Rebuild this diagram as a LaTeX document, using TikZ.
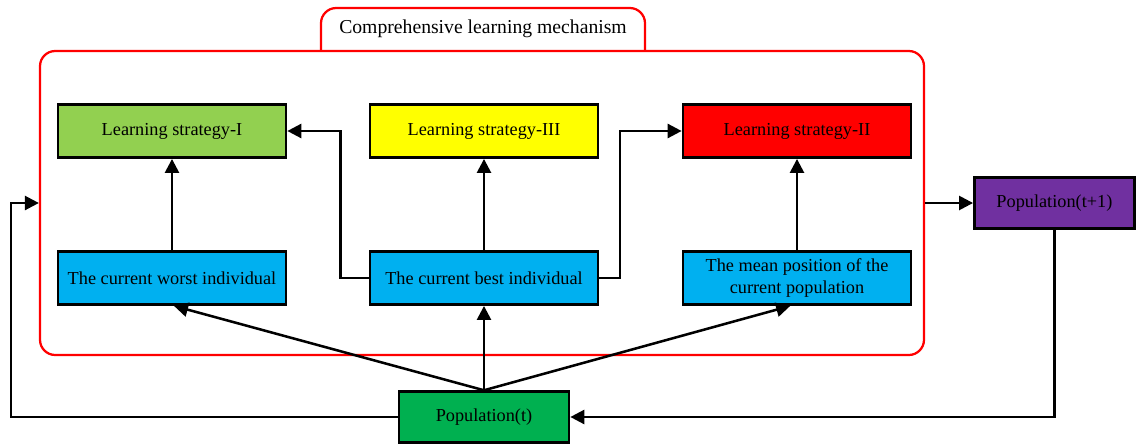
\documentclass[tikz,border=0pt]{standalone}
\usepackage{fontspec}
\setmainfont{Liberation Serif}
\usetikzlibrary{arrows.meta}

\definecolor{lsgreen}{HTML}{92D050}
\definecolor{lsyellow}{HTML}{FFFF00}
\definecolor{lsred}{HTML}{FF0000}
\definecolor{indblue}{HTML}{00B0F0}
\definecolor{poppurple}{HTML}{7030A0}
\definecolor{popgreen}{HTML}{00B050}

\begin{document}
\begin{tikzpicture}[
    box/.style={rectangle, draw, line width=1.9pt, minimum width=5.7cm, minimum height=1.33cm, align=center, font=\fontsize{13}{15.5}\selectfont},
    popbox/.style={box, minimum height=1.27cm},
    link/.style={line width=1.8pt, -{Triangle[length=10pt, width=10pt]}},
    frame/.style={draw=red, line width=1.6pt, rounded corners=0.38cm}
  ]
    \useasboundingbox (0, 0) rectangle (28.425, 11.1);

    \node[frame, minimum width=22.1cm, minimum height=7.6cm] (mech) at (12.05, 6.025) {};
    \node[font=\fontsize{14}{15.5}\selectfont] (tab) at (12.075, 10.37) {Comprehensive learning mechanism};
    \draw[frame] (8.025, 9.825) |- (tab.north |- 0, 10.9) -| (16.125, 9.825);

    \node[box, fill=lsgreen] (ls1) at (4.3, 7.825) {Learning strategy-I};
    \node[box, fill=lsyellow] (ls3) at (12.1, 7.825) {Learning strategy-III};
    \node[box, fill=lsred] (ls2) at (19.925, 7.825) {Learning strategy-II};
    \node[box, fill=indblue] (worst) at (4.3, 4.15) {The current worst individual};
    \node[box, fill=indblue] (best) at (12.1, 4.15) {The current best individual};
    \node[box, fill=indblue] (mean) at (19.925, 4.15) {The mean position of the\\current population};
    \node[popbox, fill=popgreen, minimum width=4.25cm] (popt) at (12.1, 0.675) {Population(t)};
    \node[popbox, fill=poppurple, minimum width=4.0cm] (popt1) at (26.36, 6.025) {Population(t+1)};
    \coordinate (fb) at (0.275, 6.025);

    % connectors
    \draw[link] (worst) -- (ls1);
    \draw[link] (best) -- (ls3);
    \draw[link] (mean) -- (ls2);
    \draw[link] (best.west) -- ++(-0.7, 0) |- (ls1.east);
    \draw[link] (best.east) -- ++(0.52, 0) |- (ls2.west);
    \draw[link] (popt.north) -- ([xshift=0.05cm]worst.south);
    \draw[link] (popt.north) -- (best.south);
    \draw[link] (popt.north) -- ([xshift=-0.17cm]mean.south);
    \draw[link] (mech.east) -- (popt1.west);
    \draw[link] (popt1.south) |- (popt.east);
    \draw[link] (popt.west) -| (fb) -- (mech.west);
\end{tikzpicture}
\end{document}
